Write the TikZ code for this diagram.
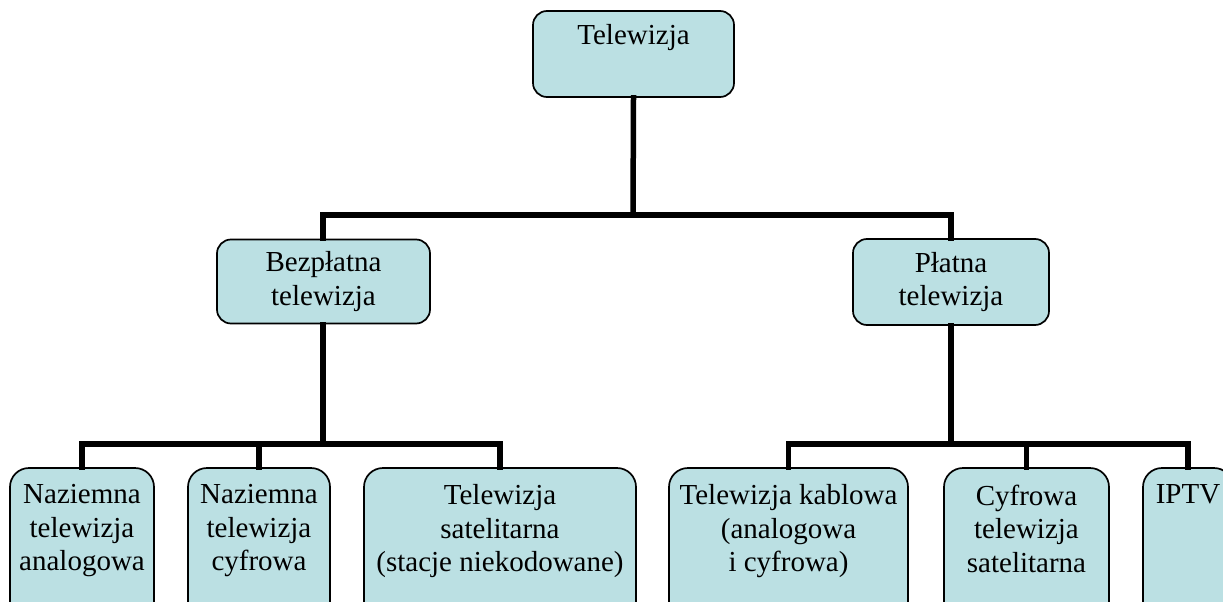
\documentclass[tikz,border=0pt]{standalone}
\usepackage{fontspec}
\setmainfont{Liberation Serif}
\definecolor{boxfill}{RGB}{187,224,227}
\tikzset{
  box/.style={draw=black, line width=1.7pt, fill=boxfill, rounded corners=#1, inner sep=0pt},
  box/.default=14pt,
  txt/.style={inner sep=0pt, align=center, font=\fontsize{29}{33.5}\selectfont},
  conn/.style={line width=5.5pt, line join=miter, line cap=rect}
}
\begin{document}
\begin{tikzpicture}[x=1pt,y=1pt]
\useasboundingbox (0,0) rectangle (1223,-602);
% boxes
\node[box, minimum width=201pt, minimum height=86pt] (top) at (633.5,-54) {};
\node[txt, anchor=north] (ttop) at (633.5,-24) {Telewizja};
\node[box, txt, minimum width=213pt, minimum height=84pt] (bez) at (323.5,-281.5) {Bezpłatna\\telewizja};
\node[box, txt, minimum width=196pt, minimum height=86pt] (pl) at (951,-282) {Płatna\\telewizja};
% bottom level
\node[box=19pt, minimum width=144pt, minimum height=157pt] (b1) at (82,-546.5) {};
\node[box=19pt, minimum width=142pt, minimum height=157pt] (b2) at (259,-546.5) {};
\node[box=19pt, minimum width=272pt, minimum height=157pt] (b3) at (500,-546.5) {};
\node[box=19pt, minimum width=239pt, minimum height=157pt] (b4) at (788.5,-546.5) {};
\node[box=19pt, minimum width=165pt, minimum height=157pt] (b5) at (1026.5,-546.5) {};
\node[box=19pt, minimum width=90pt, minimum height=157pt] (b6) at (1188,-546.5) {};
\node[txt, anchor=north] (t1) at (82,-484.5) {Naziemna\\telewizja\\analogowa};
\node[txt, anchor=north] (t2) at (259,-484.5) {Naziemna\\telewizja\\cyfrowa};
\node[txt, anchor=north] (t3) at (500,-484.5) {Telewizja\\satelitarna\\(stacje niekodowane)};
\node[txt, anchor=north] (t4) at (788.5,-484.5) {Telewizja kablowa\\(analogowa\\i cyfrowa)};
\node[txt, anchor=north] (t5) at (1026.5,-484.5) {Cyfrowa\\telewizja\\satelitarna};
\node[txt, anchor=north] (t6) at (1188,-484.5) {IPTV};
% junctions
\coordinate (j1) at (633,-215);
\coordinate (j2) at (323,-444);
\coordinate (j3) at (951,-444);
% connectors
\draw[conn] (top.south) -- (j1);
\draw[conn] (bez.north -| j2) |- (j1) -| (pl.north);
\draw[conn] (bez.south -| j2) -- (j2);
\draw[conn] (b1.north) |- (j2) -| (b3.north);
\draw[conn] (b2.north) -- (b2.north |- j2);
\draw[conn] (pl.south) -- (j3);
\draw[conn] (b4.north) |- (j3) -| (b6.north);
\draw[conn] (b5.north) -- (b5.north |- j3);
\end{tikzpicture}
\end{document}
